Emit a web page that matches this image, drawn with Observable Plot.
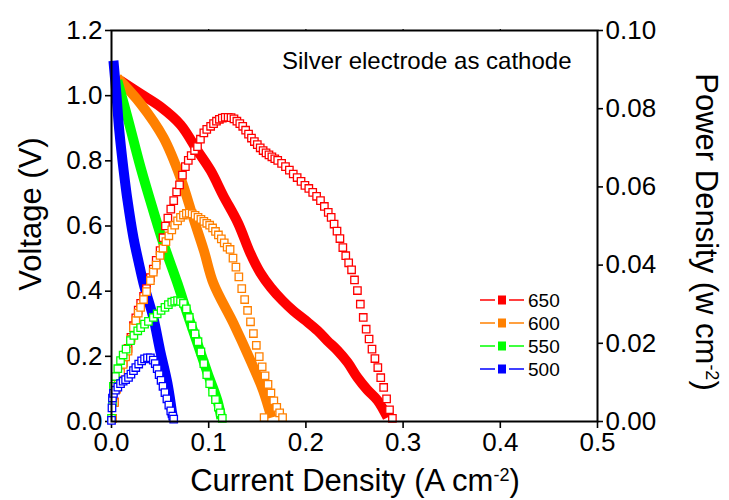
<!DOCTYPE html>
<html>
<head>
<meta charset="utf-8">
<script src="https://cdn.jsdelivr.net/npm/d3@7"></script>
<script src="https://cdn.jsdelivr.net/npm/@observablehq/plot@0.6"></script>
<style>
  html, body { margin: 0; padding: 0; background: #fff; }
  #chart { position: relative; width: 729px; height: 500px; }
</style>
</head>
<body>
<div id="chart"></div>
<script>
// Cell temperatures (°C) and their colours
const temps = ["650", "600", "550", "500"];
const colors = ["#ff0000", "#ff8000", "#00ff00", "#0000ff"];

// Polarisation curves: [current density (A cm-2), voltage (V)]
const volt650 = [[0.0093,1.046],[0.0298,1.006],[0.0504,0.966],[0.071,0.911],[0.0885,0.831],[0.102,0.770],[0.115,0.693],[0.130,0.610],[0.143,0.515],[0.153,0.457],[0.164,0.411],[0.176,0.371],[0.187,0.340],[0.1996,0.310],[0.212,0.279],[0.222,0.248],[0.2325,0.218],[0.243,0.181],[0.253,0.135],[0.263,0.098],[0.274,0.064],[0.284,0.012]];
const volt600 = [[0.006,1.055],[0.030,0.975],[0.0535,0.871],[0.071,0.748],[0.084,0.626],[0.095,0.525],[0.105,0.423],[0.1255,0.301],[0.143,0.187],[0.156,0.095],[0.1645,0.012]];
const volt550 = [[0.006,1.046],[0.0165,0.933],[0.030,0.779],[0.043,0.647],[0.0535,0.546],[0.068,0.423],[0.078,0.331],[0.0885,0.239],[0.099,0.147],[0.109,0.064],[0.113,0.009]];
const volt500 = [[0.002,1.107],[0.005,1.006],[0.008,0.893],[0.0125,0.770],[0.0165,0.678],[0.0226,0.564],[0.028,0.488],[0.033,0.423],[0.043,0.319],[0.050,0.218],[0.0576,0.117],[0.063,0.012]];

// Power density curves: [current density (A cm-2), power density (W cm-2)]
const pow650 = [[0.001,0.0008],[0.003,0.0050],[0.005,0.0085],[0.007,0.0110],[0.0093,0.0130],[0.012,0.0150],[0.0145,0.0170],[0.017,0.0187],[0.020,0.0215],[0.0226,0.0245],[0.025,0.0265],[0.0275,0.0285],[0.030,0.0302],[0.033,0.0320],[0.036,0.0340],[0.040,0.0368],[0.043,0.0390],[0.046,0.0412],[0.050,0.0437],[0.053,0.0470],[0.0555,0.0500],[0.058,0.0520],[0.061,0.0543],[0.064,0.0565],[0.067,0.0587],[0.070,0.0605],[0.073,0.0630],[0.076,0.0652],[0.079,0.0668],[0.082,0.0680],[0.0855,0.0693],[0.0885,0.0703],[0.0915,0.0722],[0.095,0.0738],[0.098,0.0747],[0.102,0.0755],[0.105,0.0762],[0.108,0.0768],[0.111,0.0773],[0.114,0.0776],[0.117,0.0778],[0.120,0.0778],[0.123,0.0777],[0.126,0.0774],[0.129,0.0768],[0.132,0.0762],[0.135,0.0755],[0.138,0.0745],[0.141,0.0735],[0.144,0.0725],[0.147,0.0716],[0.150,0.0708],[0.153,0.0700],[0.156,0.0693],[0.159,0.0687],[0.162,0.0682],[0.165,0.0677],[0.168,0.0672],[0.171,0.0668],[0.175,0.0660],[0.179,0.0652],[0.183,0.0643],[0.187,0.0633],[0.191,0.0624],[0.195,0.0614],[0.199,0.0604],[0.203,0.0596],[0.207,0.0586],[0.211,0.0576],[0.215,0.0565],[0.219,0.0550],[0.223,0.0535],[0.226,0.0522],[0.229,0.0505],[0.232,0.0487],[0.235,0.0468],[0.238,0.0445],[0.241,0.0424],[0.244,0.0406],[0.247,0.0388],[0.250,0.0362],[0.253,0.0335],[0.256,0.0300],[0.259,0.0266],[0.262,0.0236],[0.265,0.0211],[0.268,0.0185],[0.271,0.0161],[0.274,0.0138],[0.277,0.0112],[0.280,0.0087],[0.283,0.0058],[0.286,0.0030],[0.289,0.0008]];
const pow600 = [[0.001,0.0008],[0.003,0.0048],[0.005,0.0082],[0.007,0.0106],[0.0093,0.0125],[0.012,0.0146],[0.0145,0.0165],[0.017,0.0180],[0.020,0.0210],[0.0226,0.0240],[0.025,0.0258],[0.0275,0.0277],[0.030,0.0292],[0.033,0.0312],[0.036,0.0332],[0.040,0.0360],[0.043,0.0382],[0.046,0.0400],[0.050,0.0425],[0.053,0.0443],[0.056,0.0460],[0.059,0.0475],[0.062,0.0490],[0.065,0.0502],[0.068,0.0513],[0.071,0.0522],[0.074,0.0528],[0.077,0.0532],[0.080,0.0533],[0.083,0.0531],[0.086,0.0527],[0.089,0.0522],[0.092,0.0517],[0.095,0.0512],[0.098,0.0507],[0.101,0.0502],[0.104,0.0495],[0.107,0.0486],[0.110,0.0477],[0.113,0.0467],[0.116,0.0457],[0.119,0.0446],[0.122,0.0440],[0.125,0.0418],[0.128,0.0395],[0.131,0.0370],[0.134,0.0340],[0.137,0.0312],[0.140,0.0284],[0.143,0.0255],[0.146,0.0225],[0.149,0.0195],[0.152,0.0166],[0.155,0.0140],[0.158,0.0117],[0.161,0.0095],[0.164,0.0073],[0.167,0.0053],[0.170,0.0036],[0.173,0.0022],[0.176,0.0010],[0.157,0.0010]];
const pow550 = [[0.000,0.0008],[0.001,0.0050],[0.002,0.0090],[0.004,0.0115],[0.0065,0.0135],[0.0093,0.0156],[0.012,0.0170],[0.015,0.0185],[0.0195,0.0207],[0.023,0.0220],[0.027,0.0232],[0.030,0.0240],[0.034,0.0249],[0.038,0.0256],[0.043,0.0266],[0.047,0.0275],[0.051,0.0284],[0.055,0.0292],[0.0585,0.0299],[0.062,0.0305],[0.065,0.0308],[0.068,0.0309],[0.071,0.0307],[0.074,0.0302],[0.077,0.0288],[0.080,0.0266],[0.083,0.0244],[0.086,0.0224],[0.089,0.0204],[0.092,0.0178],[0.095,0.0148],[0.098,0.0120],[0.101,0.0097],[0.104,0.0075],[0.107,0.0056],[0.110,0.0037],[0.112,0.0022],[0.114,0.0008]];
const pow500 = [[0.000,0.0003],[0.0005,0.0035],[0.001,0.0060],[0.002,0.0072],[0.004,0.0080],[0.0065,0.0088],[0.0093,0.0097],[0.012,0.0103],[0.0145,0.0107],[0.0175,0.0113],[0.020,0.0121],[0.0226,0.0130],[0.025,0.0138],[0.028,0.0147],[0.031,0.0155],[0.034,0.0160],[0.037,0.0163],[0.040,0.0163],[0.043,0.0157],[0.045,0.0148],[0.047,0.0135],[0.049,0.0120],[0.051,0.0105],[0.053,0.0090],[0.055,0.0074],[0.057,0.0058],[0.059,0.0042],[0.061,0.0027],[0.063,0.0014],[0.064,0.0006]];

// Axis ticks
const xTicks = [0, 0.1, 0.2, 0.3, 0.4, 0.5];
const vTicks = [0, 0.2, 0.4, 0.6, 0.8, 1.0, 1.2];
const pTicks = [0, 0.02, 0.04, 0.06, 0.08, 0.10];

// The right axis shares the plot area: 0.10 W cm-2 sits level with 1.2 V
const P_TO_V = 1.2 / 0.10;

const voltSets = [volt650, volt600, volt550, volt500];
const powSets = [pow650, pow600, pow550, pow500];
const voltRows = voltSets.flatMap((s, k) => s.map(([i, v]) => ({t: temps[k], i, v})));
const powRows = powSets.flatMap((s, k) => s.map(([i, p]) => ({t: temps[k], i, p})));

const font = "'Liberation Sans', Arial, Helvetica, sans-serif";

const chart = Plot.plot({
  width: 729,
  height: 500,
  marginLeft: 111,
  marginRight: 132,
  marginTop: 30,
  marginBottom: 79,
  style: {fontFamily: font, background: "white", color: "black", overflow: "visible"},
  x: {domain: [0, 0.5]},
  y: {domain: [0, 1.2]},
  color: {domain: temps, range: colors},
  marks: [
    Plot.axisY({ticks: vTicks, tickFormat: d => d.toFixed(1), tickSize: 6, tickPadding: 3, strokeWidth: 1.6, fontSize: 26, label: null}),
    Plot.axisY({anchor: "right", ticks: pTicks.map(p => p * P_TO_V), tickFormat: d => (d / P_TO_V).toFixed(2), tickSize: 5, tickPadding: 3, strokeWidth: 1.6, fontSize: 26, label: null}),
    Plot.axisX({ticks: xTicks, tickFormat: d => d.toFixed(1), tickSize: 7, tickPadding: 4, strokeWidth: 1.6, fontSize: 26, label: null}),
    Plot.axisX({anchor: "top", ticks: [0.1, 0.2, 0.3, 0.4], tickSize: 2, tickFormat: () => "", strokeWidth: 1.2, label: null}),
    Plot.line(voltRows, {x: "i", y: "v", z: "t", stroke: "t", strokeWidth: 10, strokeLinecap: "butt", curve: "catmull-rom"}),
    Plot.dot(powRows, {x: "i", y: d => d.p * P_TO_V, stroke: "t", fill: "white", symbol: "square", r: 4.2, strokeWidth: 1.3}),
    Plot.frame({stroke: "black", strokeWidth: 2}),
    Plot.text(["Silver electrode as cathode"], {frameAnchor: "top-right", textAnchor: "end", lineAnchor: "top", dx: -26, dy: 21, fontSize: 24})
  ]
});
document.getElementById("chart").appendChild(chart);

// Axis titles with superscripts, and the in-plot legend
const svg = d3.select(chart);

function title(x, y, angle, parts) {
  const t = svg.append("text")
    .attr("transform", `translate(${x},${y}) rotate(${angle})`)
    .attr("text-anchor", "middle")
    .attr("font-family", font)
    .attr("font-size", 31)
    .attr("fill", "black");
  parts.forEach(([s, sup]) => {
    const ts = t.append("tspan").text(s);
    if (sup) ts.attr("font-size", 18).attr("baseline-shift", "super");
  });
}
title(355, 491, 0, [["Current Density (A cm"], ["-2", true], [")"]]);
title(41, 214, -90, [["Voltage (V)"]]);
title(696, 232, 90, [["Power Density (w cm"], ["-2", true], [")"]]);

const legend = svg.append("g").attr("transform", "translate(480,300)");
temps.forEach((t, k) => {
  const g = legend.append("g").attr("transform", `translate(0,${k * 23})`);
  g.append("line").attr("x1", 0).attr("x2", 15).attr("stroke", colors[k]).attr("stroke-width", 1.5);
  g.append("line").attr("x1", 29).attr("x2", 44).attr("stroke", colors[k]).attr("stroke-width", 1.5);
  g.append("rect").attr("x", 18).attr("y", -4.5).attr("width", 8).attr("height", 9).attr("fill", colors[k]);
  g.append("text").attr("x", 48).attr("y", 0).attr("dy", "0.36em").attr("text-anchor", "start")
    .attr("font-family", font).attr("font-size", 19).attr("fill", "black").text(t);
});
</script>
</body>
</html>
